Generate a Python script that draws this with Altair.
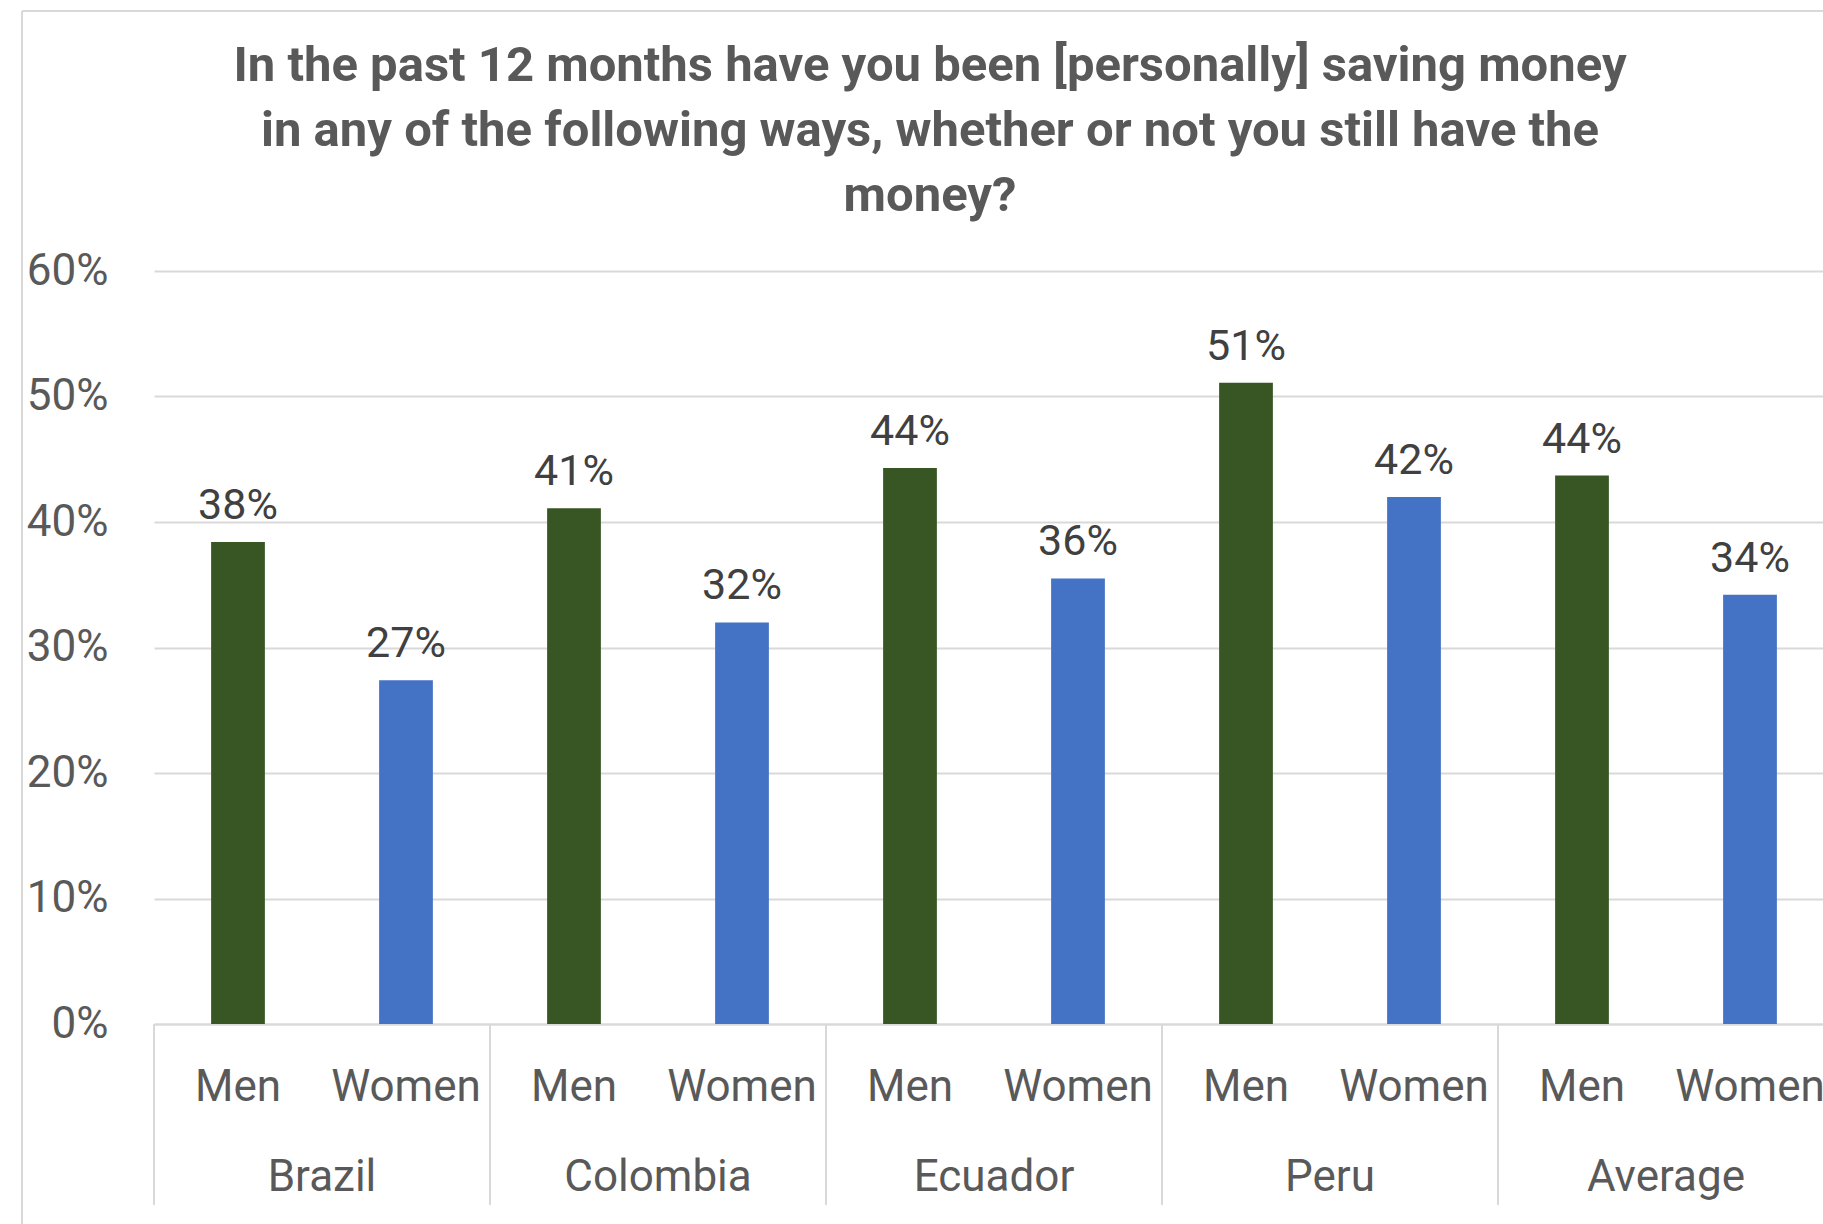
import altair as alt
import pandas as pd

TITLE_LINES = [
    "In the past 12 months have you been [personally] saving money",
    "in any of the following ways, whether or not you still have the",
    "money?",
]
COUNTRIES = ["Brazil", "Colombia", "Ecuador", "Peru", "Average"]
GENDERS = ["Men", "Women"]
MEN = [0.384, 0.411, 0.443, 0.511, 0.437]
WOMEN = [0.274, 0.320, 0.355, 0.420, 0.342]
Y_TICKS = [0, 0.1, 0.2, 0.3, 0.4, 0.5, 0.6]
COLORS = ["#375623", "#4472C4"]

rows = []
for c, m, w in zip(COUNTRIES, MEN, WOMEN):
    rows.append({"country": c, "gender": "Men", "value": m})
    rows.append({"country": c, "gender": "Women", "value": w})
df = pd.DataFrame(rows)
cdf = pd.DataFrame({"country": COUNTRIES})
one = pd.DataFrame({"k": [0]})

W = 1669
H = 753
FONT = "Roboto"
GRID = "#D9D9D9"
LABEL = "#595959"

xscale = alt.Scale(range=[0, 1680], paddingInner=0, paddingOuter=0)
xaxis = alt.Axis(title=None, labels=False, ticks=False, domain=True,
                 domainColor=GRID, domainWidth=2, grid=False)


def xenc(**kw):
    return alt.X("country:N", sort=COUNTRIES, scale=xscale, axis=xaxis, **kw)


xoff = alt.XOffset("gender:N", sort=GENDERS,
                   scale=alt.Scale(paddingInner=0.68, paddingOuter=0.34))

yenc = alt.Y("value:Q",
             scale=alt.Scale(domain=[0, 0.6], nice=False, zero=True),
             axis=alt.Axis(values=Y_TICKS, format=".0%", title=None, domain=False,
                           ticks=False, tickSize=0, labelPadding=46,
                           labelFont=FONT, labelFontSize=44, labelColor=LABEL,
                           grid=True, gridColor=GRID, gridWidth=2))

bars = alt.Chart(df).mark_bar().encode(
    x=xenc(), xOffset=xoff, y=yenc,
    color=alt.Color("gender:N", scale=alt.Scale(domain=GENDERS, range=COLORS), legend=None),
)

vals = alt.Chart(df).mark_text(font=FONT, fontSize=43, color="#404040",
                               baseline="alphabetic", dy=-23).encode(
    x=xenc(), xOffset=xoff, y=yenc,
    text=alt.Text("value:Q", format=".0%"),
)

glabels = alt.Chart(df).mark_text(font=FONT, fontSize=44, color=LABEL,
                                  baseline="alphabetic").encode(
    x=xenc(), xOffset=xoff, y=alt.value(830), text="gender:N",
)

clabels = alt.Chart(cdf).mark_text(font=FONT, fontSize=44, color=LABEL,
                                   baseline="alphabetic").encode(
    x=xenc(), y=alt.value(920), text="country:N",
)

seps = alt.Chart(cdf).mark_rule(color=GRID, strokeWidth=2).encode(
    x=xenc(bandPosition=0), y=alt.value(H), y2=alt.value(934),
)

title = alt.Chart(one).mark_text(font=FONT, fontWeight="bold", fontSize=49,
                                 color=LABEL, align="center",
                                 baseline="alphabetic", lineHeight=65).encode(
    x=alt.value(776), y=alt.value(-190), text=alt.value(TITLE_LINES),
)

border_top = alt.Chart(one).mark_rule(color=GRID, strokeWidth=2).encode(
    x=alt.value(-132), x2=alt.value(W + 20), y=alt.value(-260),
)
border_left = alt.Chart(one).mark_rule(color=GRID, strokeWidth=2).encode(
    x=alt.value(-132), y=alt.value(-260), y2=alt.value(H + 210),
)

chart = alt.layer(
    border_top, border_left, seps, bars, vals, glabels, clabels, title
).properties(
    width=W, height=H,
    autosize=alt.AutoSizeParams(type="none"),
    padding={"left": 154, "top": 271, "right": 0, "bottom": 200},
    background="white",
).configure_view(stroke="transparent")

chart.save("out.html", embed_options={"renderer": "svg", "actions": False})
